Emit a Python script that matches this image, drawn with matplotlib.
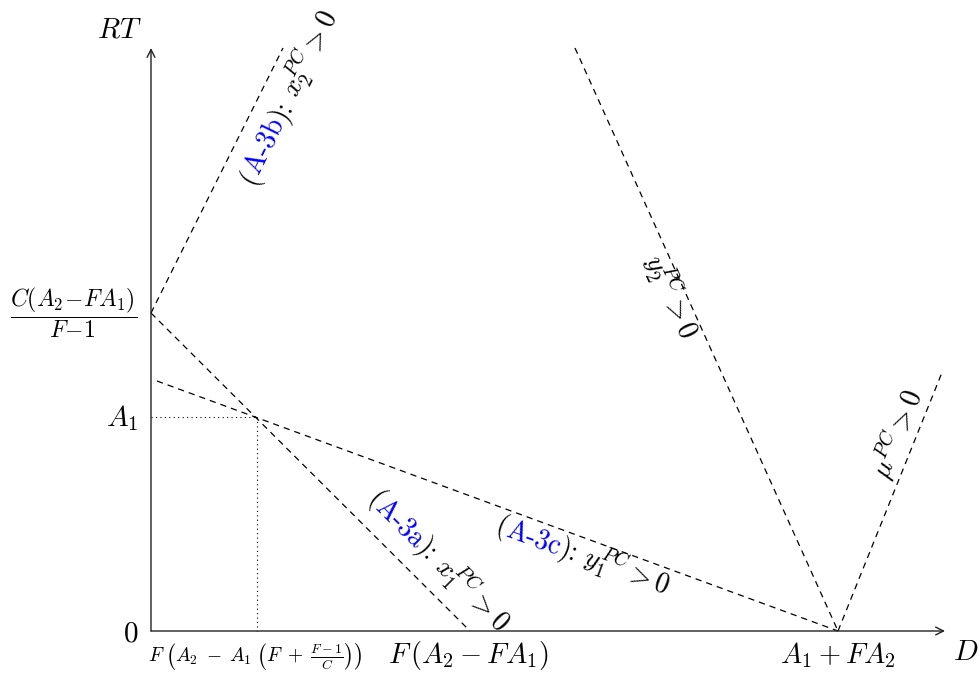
import math
import matplotlib
matplotlib.use('Agg')
import matplotlib.pyplot as plt
from matplotlib.transforms import IdentityTransform

plt.rcParams['mathtext.fontset'] = 'cm'

# geometry of the diagram (D on x, RT on y), in drawing units
x_axis_end = 794
y_axis_end = 583
y_top_3ab = 318          # C(A2-FA1)/(F-1)
y_a1 = 214               # A1
x_cross = 106            # F(A2 - A1(F + (F-1)/C))
x_3a_end = 319           # F(A2 - FA1)
x_mu = 687               # A1 + FA2

line_3a_x = [0, x_3a_end]
line_3a_y = [y_top_3ab, 0]
line_3b_x = [0, 132]
line_3b_y = [y_top_3ab, y_axis_end]
line_3c_x = [6, x_mu]
line_3c_y = [250, 0]
line_y2_x = [424, x_mu]
line_y2_y = [y_axis_end, 0]
line_mu_x = [x_mu, 792]
line_mu_y = [0, 261]

fig = plt.figure(figsize=(9.8, 6.74), dpi=100)
ax = fig.add_axes([0, 0, 1, 1])
ax.set_xlim(-151, 829)
ax.set_ylim(-43, 631)
ax.axis('off')

# axes with arrows
arrow = dict(arrowstyle='->', lw=1.0, color='#222222', shrinkA=0, shrinkB=0, mutation_scale=14)
ax.annotate('', xy=(x_axis_end, 0), xytext=(0, 0), arrowprops=arrow)
ax.annotate('', xy=(0, y_axis_end), xytext=(0, 0), arrowprops=arrow)

dash = dict(color='black', lw=0.9, linestyle=(0, (5, 4)))
for xs, ys in [(line_3a_x, line_3a_y), (line_3b_x, line_3b_y), (line_3c_x, line_3c_y),
               (line_y2_x, line_y2_y), (line_mu_x, line_mu_y)]:
    ax.plot(xs, ys, **dash)

dot = dict(color='black', lw=0.8, linestyle=(0, (1, 3)))
ax.plot([0, x_cross], [y_a1, y_a1], **dot)
ax.plot([x_cross, x_cross], [y_a1, 0], **dot)

# axis labels and ticks
ax.text(-32, 601, r'$RT$', fontsize=21, ha='center', va='center')
ax.text(815, -21, r'$D$', fontsize=21, ha='center', va='center')
ax.text(-20, -2, r'$0$', fontsize=21, ha='center', va='center')
ax.text(-29, 213, r'$A_1$', fontsize=21, ha='center', va='center')
ax.text(-77, 318, r'$\dfrac{C(A_2\!-\!FA_1)}{F\!-\!1}$', fontsize=17, ha='center', va='center')
ax.text(x_cross - 2, -26,
        r'$F\;\left(A_2\;-\;A_1\;\left(F\;+\;\frac{F-1}{C}\right)\right)$',
        fontsize=14, ha='center', va='center')
ax.text(x_3a_end - 2, -24, r'$F\,(A_2 - FA_1)$', fontsize=20.5, ha='center', va='center')
ax.text(x_mu, -24, r'$A_1 + FA_2$', fontsize=20.5, ha='center', va='center')

renderer = fig.canvas.get_renderer()


def along(x, y, xs, ys, parts, size):
    angle = math.degrees(math.atan2(ys[1] - ys[0], xs[1] - xs[0]))
    ca, sa = math.cos(math.radians(angle)), math.sin(math.radians(angle))
    widths = []
    for s, c in parts:
        kw = {} if s.startswith('$') else {'family': 'cmr10'}
        t = ax.text(0, 0, s, fontsize=size, **kw)
        widths.append(t.get_window_extent(renderer).width)
        t.remove()
    total = sum(widths)
    px, py = ax.transData.transform((x, y))
    px -= total / 2 * ca
    py -= total / 2 * sa
    for (s, c), w in zip(parts, widths):
        kw = {} if s.startswith('$') else {'family': 'cmr10'}
        ax.text(px, py, s, transform=IdentityTransform(), rotation=angle,
                rotation_mode='anchor', ha='left', va='baseline', color=c,
                fontsize=size, **kw)
        px += w * ca
        py += w * sa


blue = '#0000ff'
along(145, 530, line_3b_x, line_3b_y,
      [('(', 'k'), ('A-3b', blue), ('):', 'k'), (r'$\ x_2^{PC} > 0$', 'k')], 20)
along(512, 331, line_y2_x, line_y2_y, [(r'$y_2^{PC} > 0$', 'k')], 20)
along(281, 64, line_3a_x, line_3a_y,
      [('(', 'k'), ('A-3a', blue), ('):', 'k'), (r'$\ x_1^{PC} > 0$', 'k')], 20)
along(429, 67, line_3c_x, line_3c_y,
      [('(', 'k'), ('A-3c', blue), ('):', 'k'), (r'$\ y_1^{PC} > 0$', 'k')], 20)
along(755, 193, line_mu_x, line_mu_y, [(r'$\mu^{PC} > 0$', 'k')], 20)

fig.savefig('out.png', dpi=100)
